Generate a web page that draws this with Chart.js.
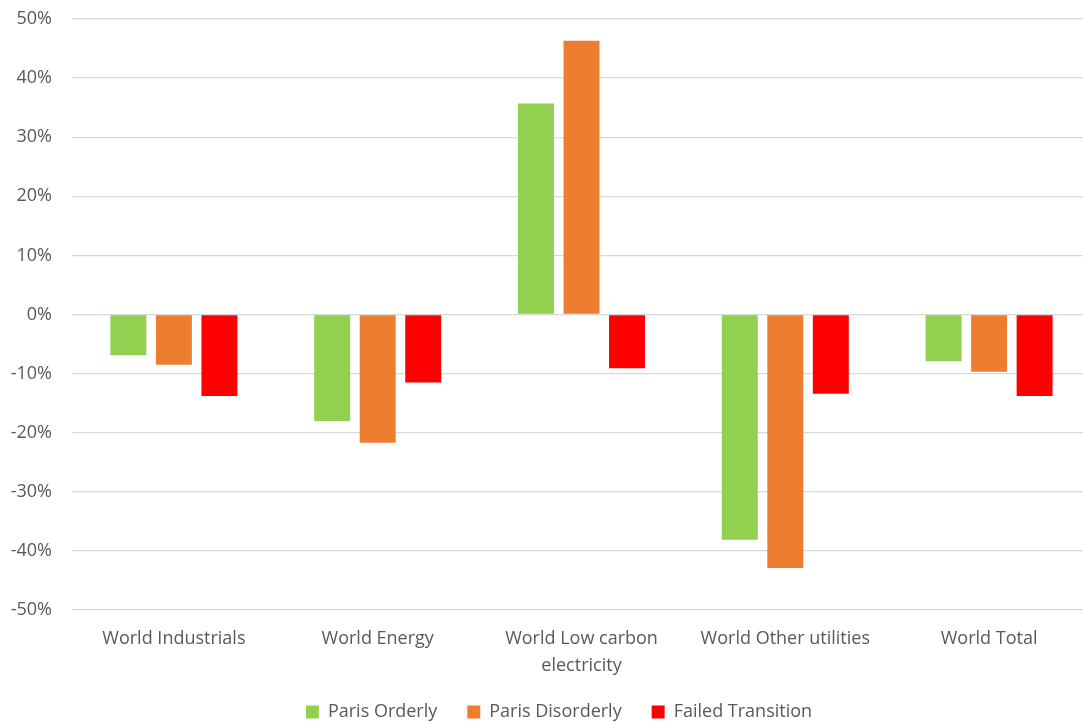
<!DOCTYPE html>
<html>
<head>
<meta charset="utf-8">
<script src="https://cdn.jsdelivr.net/npm/chart.js@4"></script>
<style>
  html, body { margin: 0; padding: 0; background: #fff; overflow: hidden; }
  #wrap { position: relative; width: 1100px; height: 722px; }
</style>
</head>
<body>
<div id="wrap"><canvas id="c"></canvas></div>
<script>
const categories = ['World Industrials', 'World Energy', ['World Low carbon', 'electricity'], 'World Other utilities', 'World Total'];
const seriesNames = ['Paris Orderly', 'Paris Disorderly', 'Failed Transition'];
const parisOrderly = [-6.9, -18.0, 35.7, -38.1, -7.9];
const parisDisorderly = [-8.5, -21.7, 46.3, -42.9, -9.7];
const failedTransition = [-13.8, -11.5, -9.1, -13.4, -13.8];
const yTicks = [-50, -40, -30, -20, -10, 0, 10, 20, 30, 40, 50];

const colors = ['#92D050', '#ED7D31', '#FF0000'];
const fam = "'Open Sans', 'DejaVu Sans', sans-serif";
const font = { family: fam, size: 18 };
const xFont = { family: fam, size: 18, lineHeight: 1.5 };
const textColor = '#595959';
const LEGEND_H = 30;
const LEGEND_PAD = 30;

const legendShift = {
  id: 'legendShift',
  beforeUpdate(chart) {
    const lg = chart.legend;
    if (lg && !lg._wrapped) {
      const orig = lg.fit.bind(lg);
      lg.fit = function () { orig(); this.height = LEGEND_H; };
      lg._wrapped = true;
    }
  },
  afterUpdate(chart) {
    const lg = chart.legend;
    if (!lg) return;
    const dx = 559 - (lg.left + lg.right) / 2;
    lg.left += dx; lg.right += dx;
    lg.top = 712 - LEGEND_PAD - 9;
    lg.bottom = lg.top + 120;
    lg.height = 120;
  }
};

new Chart(document.getElementById('c'), {
  type: 'bar',
  data: {
    labels: categories,
    datasets: [
      { label: seriesNames[0], data: parisOrderly, backgroundColor: colors[0] },
      { label: seriesNames[1], data: parisDisorderly, backgroundColor: colors[1] },
      { label: seriesNames[2], data: failedTransition, backgroundColor: colors[2] }
    ]
  },
  options: {
    responsive: true,
    maintainAspectRatio: false,
    animation: false,
    datasets: { bar: { categoryPercentage: 0.67, barPercentage: 0.79 } },
    layout: { padding: { top: 19, right: 9, left: 0, bottom: 0 } },
    plugins: {
      legend: {
        position: 'bottom',
        labels: { font: font, color: textColor, boxWidth: 13, boxHeight: 13, padding: LEGEND_PAD }
      },
      tooltip: { enabled: false }
    },
    scales: {
      x: {
        grid: { display: false, drawTicks: false },
        border: { display: false },
        ticks: { font: xFont, color: textColor, padding: 15, maxRotation: 0, autoSkip: false },
        afterFit: s => { s.height = 82; }
      },
      y: {
        min: -50, max: 50,
        afterBuildTicks: s => { s.ticks = yTicks.map(v => ({ value: v })); },
        grid: { color: '#d9d9d9', lineWidth: 1.3, drawTicks: false },
        border: { display: false },
        ticks: { font: font, color: textColor, padding: 20, callback: v => v + '%' },
        afterFit: s => { s.width = 72; s.paddingTop = 11; s.paddingBottom = 11; }
      }
    }
  },
  plugins: [legendShift]
});
</script>
</body>
</html>
